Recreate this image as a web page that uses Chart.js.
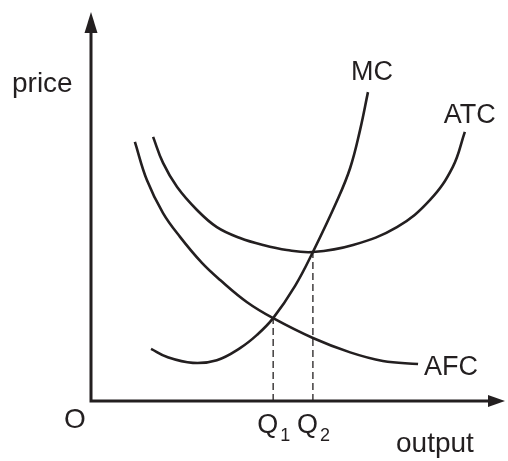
<!DOCTYPE html>
<html>
<head>
<meta charset="utf-8">
<script src="https://cdn.jsdelivr.net/npm/chart.js@4/dist/chart.umd.min.js"></script>
<style>
  body { margin: 0; background: #fff; }
  #wrap { width: 508px; height: 461px; position: relative; }
</style>
</head>
<body>
<div id="wrap"><canvas id="costs"></canvas></div>
<script>
// curves, output (x) vs price (y), axis runs 0..100 both ways
const mcX = [14.5, 18.4, 24.6, 30.4, 36.0, 40.1, 44.0, 49.3, 53.6, 59.4, 62.6, 65.0, 66.9]
const mcY = [13.4, 11.3, 9.8, 10.5, 13.6, 17.0, 21.3, 29.6, 38.3, 51.4, 59.9, 69.7, 79.4]
const atcX = [15.0, 17.4, 20.8, 25.6, 30.4, 36.0, 41.5, 47.3, 53.6, 63.3, 73.9, 81.9, 87.4, 90.3]
const atcY = [67.9, 61.2, 55.0, 49.1, 44.7, 41.9, 40.1, 38.8, 38.3, 40.1, 44.7, 51.7, 60.2, 69.2]
const afcX = [10.6, 13.5, 17.4, 21.5, 26.8, 31.2, 37.7, 44.0, 53.6, 62.6, 70.5, 79.0]
const afcY = [66.6, 56.8, 48.3, 42.2, 35.5, 31.1, 25.4, 21.3, 16.2, 12.5, 10.3, 9.5]
const qValues = [44.0, 53.6]      // Q1, Q2
const qPrices = [21.3, 38.3]      // where the dashes stop
const qLabels = ['1', '2']

const ink = '#231f20'
const font = '"Liberation Sans", Arial, sans-serif'

function pts(xs, ys) {
  return xs.map((x, i) => ({ x: x, y: ys[i] }))
}

function curve(label, xs, ys) {
  return {
    label: label,
    data: pts(xs, ys),
    showLine: true,
    borderColor: ink,
    borderWidth: 2.6,
    pointRadius: 0,
    tension: 0.4,
    fill: false
  }
}

function dashed(i) {
  return {
    label: 'Q' + qLabels[i],
    data: [{ x: qValues[i], y: 0 }, { x: qValues[i], y: qPrices[i] }],
    showLine: true,
    borderColor: ink,
    borderWidth: 1.3,
    borderDash: [7, 4],
    pointRadius: 0
  }
}

// axes with arrow heads plus all the text
const decorations = {
  id: 'decorations',
  afterDatasetsDraw(chart) {
    const c = chart.ctx
    const a = chart.chartArea
    const xs = chart.scales.x, ys = chart.scales.y
    c.save()
    c.strokeStyle = ink
    c.fillStyle = ink
    c.lineWidth = 3
    c.beginPath()
    c.moveTo(a.left, a.top + 18)
    c.lineTo(a.left, a.bottom)
    c.lineTo(a.right - 14, a.bottom)
    c.stroke()
    // y arrow
    c.beginPath()
    c.moveTo(a.left, a.top)
    c.lineTo(a.left - 6.5, a.top + 21)
    c.lineTo(a.left + 6.5, a.top + 21)
    c.closePath()
    c.fill()
    // x arrow
    c.beginPath()
    c.moveTo(a.right, a.bottom)
    c.lineTo(a.right - 17, a.bottom - 6)
    c.lineTo(a.right - 17, a.bottom + 6)
    c.closePath()
    c.fill()

    c.font = '28px ' + font
    c.textBaseline = 'alphabetic'
    c.textAlign = 'left'
    c.fillText('price', 12, 92)
    c.fillText('O', 64, 428)
    c.fillText('output', 396, 452)

    c.font = '27px ' + font
    c.textAlign = 'center'
    const mcEnd = mcX.length - 1, atcEnd = atcX.length - 1, afcEnd = afcX.length - 1
    c.fillText('MC', xs.getPixelForValue(mcX[mcEnd]) + 4, ys.getPixelForValue(mcY[mcEnd]) - 12)
    c.fillText('ATC', xs.getPixelForValue(atcX[atcEnd]) + 5, ys.getPixelForValue(atcY[atcEnd]) - 9)
    c.textAlign = 'left'
    c.fillText('AFC', xs.getPixelForValue(afcX[afcEnd]) + 6, ys.getPixelForValue(afcY[afcEnd]) + 11)

    qValues.forEach((q, i) => {
      const px = xs.getPixelForValue(q)
      c.font = '27px ' + font
      c.textAlign = 'left'
      c.fillText('Q', px - 16, 433)
      c.font = '18px ' + font
      c.fillText(qLabels[i], px + 7, 441)
    })
    c.restore()
  }
}

function config() {
  return {
    type: 'scatter',
    data: {
      datasets: [
        curve('MC', mcX, mcY),
        curve('ATC', atcX, atcY),
        curve('AFC', afcX, afcY),
        dashed(0),
        dashed(1)
      ]
    },
    options: {
      responsive: true,
      maintainAspectRatio: false,
      animation: false,
      layout: { padding: { left: 91, right: 3, top: 12, bottom: 60 } },
      plugins: {
        legend: { display: false },
        tooltip: { enabled: false }
      },
      scales: {
        x: { type: 'linear', min: 0, max: 100, display: false },
        y: { type: 'linear', min: 0, max: 100, display: false }
      }
    },
    plugins: [decorations]
  }
}

const ctx = document.querySelector('#costs').getContext('2d')
new Chart(ctx, config())
</script>
</body>
</html>
